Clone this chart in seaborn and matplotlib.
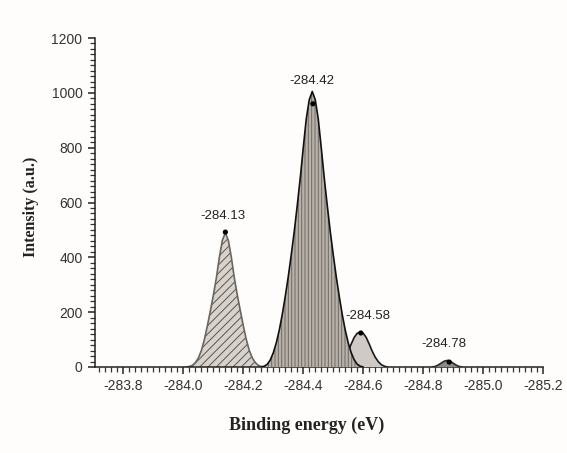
import matplotlib
matplotlib.use("Agg")
import matplotlib.pyplot as plt
import seaborn as sns
import pandas as pd
from matplotlib.ticker import MultipleLocator

# ---- data ----
p1_x = [-284.01, -284.02, -284.03, -284.04, -284.05, -284.06, -284.07, -284.08, -284.09, -284.10,
        -284.11, -284.12, -284.13, -284.14, -284.15, -284.16, -284.17, -284.18, -284.19,
        -284.20, -284.21, -284.22, -284.23, -284.24, -284.25, -284.26, -284.27]
p1_y = [0, 2, 6, 16, 33, 60, 100, 150, 205, 262, 325, 400, 462, 490, 462, 400, 325, 262,
        205, 150, 100, 60, 33, 16, 6, 2, 0]

p2_x = [-284.26, -284.27, -284.28, -284.29, -284.30, -284.31, -284.32, -284.33, -284.34,
        -284.35, -284.36, -284.37, -284.38, -284.39, -284.40, -284.41, -284.42, -284.43,
        -284.44, -284.45, -284.46, -284.47, -284.48, -284.49, -284.50, -284.51, -284.52,
        -284.53, -284.54, -284.55, -284.56, -284.57, -284.58, -284.59, -284.60]
p2_y = [0, 3, 10, 26, 52, 88, 135, 192, 258, 330, 410, 495, 590, 690, 800, 905, 975, 1005,
        975, 905, 800, 690, 590, 495, 410, 330, 258, 192, 135, 88, 52, 26, 10, 3, 0]

p3_x = [-284.50, -284.51, -284.52, -284.53, -284.54, -284.55, -284.56, -284.57, -284.58, -284.59,
        -284.60, -284.61, -284.62, -284.63, -284.64, -284.65, -284.66, -284.67, -284.68]
p3_y = [0, 3, 9, 20, 36, 58, 84, 108, 123, 127, 123, 108, 84, 58, 36, 20, 9, 3, 0]

p4_x = [-284.83, -284.84, -284.85, -284.86, -284.87, -284.88, -284.89, -284.90, -284.91,
        -284.92, -284.93]
p4_y = [0, 2, 7, 14, 21, 24, 21, 14, 7, 2, 0]

dot_x = [-284.14, -284.432, -284.592, -284.887]
dot_y = [492, 960, 124, 18]

label_text = ["-284.13", "-284.42", "-284.58", "-284.78"]
label_x = [-284.132, -284.429, -284.617, -284.87]
label_y = [549, 1044, 186, 83]

x_ticks = [-283.8, -284.0, -284.2, -284.4, -284.6, -284.8, -285.0, -285.2]
y_ticks = [0, 200, 400, 600, 800, 1000, 1200]

# ---- style ----
sns.set_style("ticks")
plt.rcParams["font.family"] = ["Liberation Sans", "DejaVu Sans"]
plt.rcParams["axes.unicode_minus"] = False
plt.rcParams["hatch.linewidth"] = 0.7

bg = "#fefdfb"
fig = plt.figure(figsize=(5.67, 4.53), dpi=100, facecolor=bg)
ax = fig.add_axes([95 / 567, (453 - 367) / 453, (543 - 95) / 567, (367 - 38) / 453])
ax.set_facecolor(bg)

peaks = [
    dict(x=p1_x, y=p1_y, fc="#d8d2cc", hatch="////", hc="#5a5550", lc="#6a6560", z=2),
    dict(x=p3_x, y=p3_y, fc="#cfcac5", hatch=None, hc=None, lc="#1a1a1a", z=3),
    dict(x=p2_x, y=p2_y, fc="#b8b1a9", hatch="|||||", hc="#6e6964", lc="#111111", z=4),
    dict(x=p4_x, y=p4_y, fc="#8d8883", hatch=None, hc=None, lc="#2a2a2a", z=3),
]

for p in peaks:
    df = pd.DataFrame({"be": p["x"], "I": p["y"]})
    ax.fill_between(df["be"], 0, df["I"], facecolor=p["fc"],
                    edgecolor=p["hc"] if p["hc"] else "none",
                    hatch=p["hatch"], linewidth=0, zorder=p["z"])
    sns.lineplot(data=df, x="be", y="I", ax=ax, color=p["lc"], linewidth=1.2,
                 sort=False, estimator=None, zorder=p["z"] + 0.5)

dots = pd.DataFrame({"be": dot_x, "I": dot_y})
sns.scatterplot(data=dots, x="be", y="I", ax=ax, color="black", s=14,
                edgecolor="none", zorder=10)

for t, lx, ly in zip(label_text, label_x, label_y):
    ax.text(lx, ly, t, ha="center", va="center", fontsize=9.5, color="#222222",
            family=["Liberation Sans", "DejaVu Sans"], zorder=11)

ax.set_xlim(-283.705, -285.2)
ax.set_ylim(0, 1200)
ax.set_xticks(x_ticks)
ax.set_xticklabels([f"{v:.1f}" for v in x_ticks])
ax.set_yticks(y_ticks)
ax.xaxis.set_minor_locator(MultipleLocator(0.02))
ax.yaxis.set_minor_locator(MultipleLocator(20))
ax.tick_params(which="major", direction="out", length=5, width=1.1, colors="#222222",
               labelsize=10, labelcolor="#333333", pad=4)
ax.tick_params(which="minor", direction="out", length=3.5, width=0.9, colors="#333333")

for s in ["top", "right"]:
    ax.spines[s].set_visible(False)
for s in ["left", "bottom"]:
    ax.spines[s].set_linewidth(1.1)
    ax.spines[s].set_color("#222222")

ax.set_xlabel("Binding energy (eV)", family=["Liberation Serif", "DejaVu Serif"],
              fontsize=13, fontweight="bold", color="#222222")
ax.set_ylabel("Intensity (a.u.)", family=["Liberation Serif", "DejaVu Serif"],
              fontsize=11.5, fontweight="bold", color="#222222")
ax.xaxis.set_label_coords((306.5 - 95) / 448, (367 - 417) / 329)
ax.yaxis.set_label_coords((39 - 95) / 448, (367 - 206.5) / 329)

fig.savefig("out.png", dpi=100, facecolor=bg)
